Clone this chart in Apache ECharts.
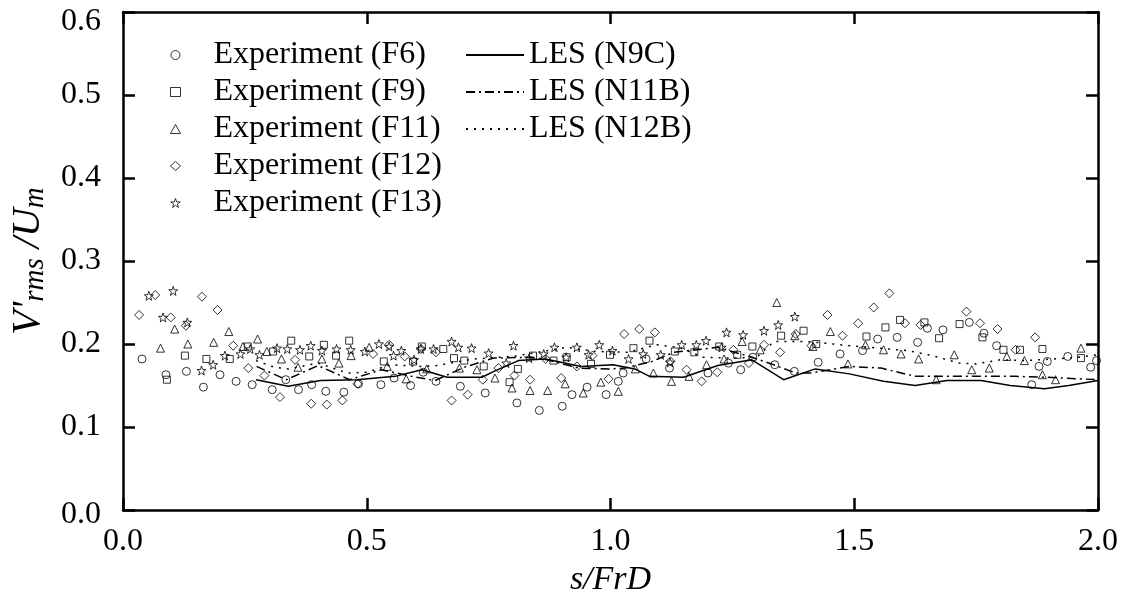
<!DOCTYPE html>
<html><head><meta charset="utf-8">
<script src="https://cdn.jsdelivr.net/npm/echarts@6/dist/echarts.min.js"></script>
<style>html,body{margin:0;padding:0;background:#fff}#c{width:1129px;height:601px}</style>
</head><body><div id="c"></div>
<script>
const FONT = 'Liberation Serif';
const seriesNames = ['Experiment (F6)','Experiment (F9)','Experiment (F11)','Experiment (F12)','Experiment (F13)','LES (N9C)','LES (N11B)','LES (N12B)'];

const expF6 = [[0.039,0.182],[0.088,0.163],[0.130,0.167],[0.165,0.148],[0.199,0.163],[0.232,0.155],[0.265,0.151],[0.306,0.145],[0.334,0.157],[0.360,0.145],[0.387,0.151],[0.416,0.143],[0.453,0.142],[0.483,0.152],[0.529,0.151],[0.556,0.159],[0.590,0.150],[0.616,0.166],[0.642,0.155],[0.692,0.149],[0.743,0.141],[0.808,0.129],[0.854,0.120],[0.901,0.125],[0.921,0.139],[0.952,0.148],[0.991,0.139],[1.016,0.155],[1.026,0.165],[1.073,0.182],[1.121,0.171],[1.200,0.165],[1.242,0.177],[1.267,0.169],[1.292,0.184],[1.337,0.175],[1.377,0.167],[1.426,0.178],[1.471,0.188],[1.517,0.192],[1.548,0.206],[1.588,0.208],[1.630,0.202],[1.650,0.219],[1.682,0.217],[1.736,0.226],[1.766,0.213],[1.792,0.198],[1.864,0.151],[1.879,0.173],[1.896,0.179],[1.938,0.185],[1.985,0.172],[1.997,0.180]];

const expF9 = [[0.090,0.157],[0.127,0.186],[0.171,0.182],[0.219,0.182],[0.256,0.197],[0.308,0.191],[0.345,0.204],[0.382,0.185],[0.412,0.199],[0.437,0.186],[0.464,0.204],[0.535,0.179],[0.595,0.179],[0.613,0.197],[0.657,0.194],[0.679,0.183],[0.700,0.180],[0.740,0.173],[0.793,0.154],[0.810,0.170],[0.841,0.186],[0.883,0.180],[0.910,0.184],[0.960,0.176],[0.999,0.187],[1.047,0.195],[1.080,0.204],[1.132,0.191],[1.172,0.190],[1.223,0.197],[1.260,0.187],[1.291,0.197],[1.350,0.210],[1.396,0.216],[1.422,0.200],[1.525,0.209],[1.564,0.220],[1.594,0.229],[1.644,0.226],[1.674,0.207],[1.716,0.224],[1.763,0.208],[1.806,0.193],[1.840,0.193],[1.886,0.194],[1.965,0.183]];

const expF11 = [[0.077,0.195],[0.106,0.218],[0.133,0.200],[0.186,0.202],[0.217,0.215],[0.246,0.197],[0.276,0.206],[0.295,0.191],[0.325,0.182],[0.359,0.172],[0.408,0.182],[0.443,0.177],[0.468,0.186],[0.505,0.196],[0.542,0.173],[0.581,0.158],[0.623,0.170],[0.690,0.171],[0.726,0.169],[0.763,0.159],[0.798,0.147],[0.835,0.144],[0.871,0.144],[0.907,0.152],[0.944,0.141],[0.980,0.154],[1.016,0.143],[1.051,0.170],[1.088,0.165],[1.125,0.155],[1.161,0.161],[1.197,0.175],[1.233,0.182],[1.270,0.203],[1.307,0.193],[1.341,0.250],[1.378,0.210],[1.415,0.197],[1.451,0.215],[1.487,0.176],[1.523,0.199],[1.560,0.193],[1.596,0.188],[1.632,0.182],[1.668,0.157],[1.705,0.187],[1.741,0.169],[1.777,0.171],[1.813,0.185],[1.849,0.180],[1.886,0.163],[1.913,0.157],[1.965,0.195]];

const expF12 = [[0.033,0.235],[0.066,0.259],[0.098,0.232],[0.129,0.222],[0.162,0.257],[0.194,0.241],[0.226,0.198],[0.257,0.171],[0.290,0.162],[0.322,0.136],[0.353,0.181],[0.386,0.128],[0.418,0.127],[0.450,0.132],[0.481,0.152],[0.513,0.188],[0.546,0.199],[0.578,0.185],[0.611,0.194],[0.642,0.190],[0.674,0.132],[0.707,0.139],[0.738,0.157],[0.770,0.171],[0.803,0.162],[0.835,0.157],[0.867,0.182],[0.899,0.159],[0.931,0.173],[0.963,0.186],[0.996,0.158],[1.028,0.212],[1.059,0.218],[1.091,0.214],[1.123,0.179],[1.156,0.169],[1.187,0.155],[1.219,0.166],[1.252,0.193],[1.284,0.177],[1.315,0.199],[1.348,0.190],[1.380,0.212],[1.412,0.198],[1.445,0.235],[1.476,0.210],[1.508,0.225],[1.540,0.244],[1.572,0.261],[1.604,0.225],[1.636,0.223],[1.730,0.239],[1.758,0.225],[1.794,0.218],[1.831,0.193],[1.871,0.208]];

const expF13 = [[0.053,0.258],[0.082,0.232],[0.103,0.264],[0.132,0.226],[0.161,0.168],[0.185,0.175],[0.209,0.186],[0.241,0.188],[0.261,0.194],[0.280,0.187],[0.316,0.195],[0.337,0.194],[0.363,0.193],[0.385,0.198],[0.408,0.192],[0.438,0.194],[0.467,0.193],[0.496,0.191],[0.525,0.200],[0.546,0.197],[0.555,0.186],[0.571,0.192],[0.597,0.181],[0.611,0.194],[0.637,0.194],[0.674,0.203],[0.688,0.196],[0.715,0.195],[0.750,0.189],[0.786,0.177],[0.801,0.198],[0.833,0.183],[0.863,0.188],[0.885,0.196],[0.909,0.184],[0.931,0.196],[0.955,0.187],[0.977,0.199],[1.004,0.192],[1.037,0.182],[1.067,0.188],[1.103,0.187],[1.122,0.178],[1.146,0.199],[1.176,0.199],[1.196,0.204],[1.228,0.196],[1.238,0.214],[1.272,0.211],[1.315,0.216],[1.344,0.223],[1.378,0.233]];

const lesN9C = [[0.273,0.157],[0.339,0.149],[0.405,0.156],[0.480,0.157],[0.558,0.161],[0.613,0.169],[0.665,0.160],[0.736,0.160],[0.761,0.167],[0.811,0.180],[0.866,0.182],[0.940,0.173],[1.005,0.175],[1.050,0.170],[1.080,0.161],[1.150,0.160],[1.220,0.174],[1.290,0.181],[1.355,0.157],[1.420,0.170],[1.490,0.164],[1.560,0.155],[1.625,0.150],[1.690,0.156],[1.760,0.156],[1.820,0.150],[1.890,0.146],[1.940,0.150],[2.000,0.156]];

const lesN11B = [[0.274,0.173],[0.335,0.157],[0.400,0.174],[0.465,0.157],[0.530,0.169],[0.600,0.160],[0.640,0.156],[0.700,0.172],[0.760,0.183],[0.835,0.184],[0.870,0.181],[0.935,0.171],[1.000,0.170],[1.030,0.171],[1.085,0.179],[1.130,0.190],[1.220,0.196],[1.290,0.184],[1.330,0.176],[1.380,0.165],[1.410,0.165],[1.490,0.173],[1.555,0.171],[1.625,0.161],[1.700,0.161],[1.760,0.161],[1.830,0.161],[1.890,0.160],[2.000,0.157]];

const lesN12B = [[0.273,0.180],[0.310,0.172],[0.340,0.170],[0.400,0.177],[0.460,0.165],[0.500,0.166],[0.550,0.175],[0.610,0.173],[0.645,0.174],[0.680,0.178],[0.720,0.182],[0.800,0.185],[0.870,0.192],[0.910,0.196],[0.970,0.191],[1.035,0.190],[1.095,0.199],[1.140,0.196],[1.190,0.184],[1.250,0.183],[1.300,0.184],[1.335,0.203],[1.400,0.203],[1.440,0.201],[1.490,0.198],[1.550,0.195],[1.610,0.192],[1.660,0.186],[1.715,0.177],[1.750,0.176],[1.800,0.181],[1.850,0.180],[1.910,0.182],[1.960,0.184],[2.000,0.187]];

const starPath = 'path://M0,-10L2.35,-3.24L9.51,-3.09L3.8,1.24L5.88,8.09L0,4L-5.88,8.09L-3.8,1.24L-9.51,-3.09L-2.35,-3.24Z';

function scatter(name, data, symbol, size) {
  return {
    name, type: 'scatter', data, symbol, symbolSize: size,
    itemStyle: { color: 'rgba(0,0,0,0)', borderColor: '#000', borderWidth: 1 },
    emphasis: { disabled: true }, silent: true, z: 3
  };
}
function line(name, data, dash) {
  return {
    name, type: 'line', data, symbol: 'none', showSymbol: false,
    lineStyle: { color: '#000', width: 1.5, type: dash },
    itemStyle: { color: '#000' },
    emphasis: { disabled: true }, silent: true, z: 2
  };
}

const labelStyle = { fontFamily: FONT, fontSize: 32, color: '#000' };
const axisCommon = {
  type: 'value',
  axisLine: { show: true, onZero: false, lineStyle: { color: '#000', width: 2.5 } },
  axisTick: { show: true, inside: true, length: 12, lineStyle: { color: '#000', width: 2.5 } },
  splitLine: { show: false },
  axisLabel: Object.assign({}, labelStyle, { formatter: v => v.toFixed(1) })
};

const legendText = { fontFamily: FONT, fontSize: 32, lineHeight: 30, color: '#000' };

const chart = echarts.init(document.getElementById('c'), null, { renderer: 'canvas' });
chart.setOption({
  animation: false,
  backgroundColor: '#fff',
  grid: { left: 123, right: 31, top: 12, bottom: 91, outerBoundsMode: 'none' },
  xAxis: [
    Object.assign({}, axisCommon, {
      min: 0, max: 2, interval: 0.5, position: 'bottom',
      axisLabel: Object.assign({}, axisCommon.axisLabel, { margin: 16 }),
      name: 's/FrD', nameLocation: 'middle', nameGap: 52,
      nameTextStyle: { fontFamily: FONT, fontSize: 34, fontStyle: 'italic', color: '#000' }
    }),
    Object.assign({}, axisCommon, {
      min: 0, max: 2, interval: 0.5, position: 'top',
      axisLabel: { show: false }
    })
  ],
  yAxis: [
    Object.assign({}, axisCommon, {
      min: 0, max: 0.6, interval: 0.1, position: 'left',
      axisLabel: Object.assign({}, axisCommon.axisLabel, {
        margin: 22,
        formatter: v => {
          const s = v.toFixed(1);
          if (v >= 0.59) return '{top|' + s + '}';
          if (v <= 0.01) return '{bot|' + s + '}';
          return s;
        },
        rich: {
          top: Object.assign({}, labelStyle, { padding: [20, 0, 0, 0] }),
          bot: Object.assign({}, labelStyle, { padding: [10, 0, 0, 0] })
        }
      }),
      name: "{a|V'}{b|rms}{a| /U}{b|m}", nameLocation: 'middle', nameGap: 68, nameRotate: 90,
      nameTextStyle: {
        fontFamily: FONT, fontStyle: 'italic', color: '#000',
        rich: {
          a: { fontFamily: FONT, fontStyle: 'italic', fontSize: 40, lineHeight: 44, color: '#000' },
          b: { fontFamily: FONT, fontStyle: 'italic', fontSize: 29, lineHeight: 24, verticalAlign: 'bottom', color: '#000' }
        }
      }
    }),
    Object.assign({}, axisCommon, {
      min: 0, max: 0.6, interval: 0.1, position: 'right',
      axisLabel: { show: false }
    })
  ],
  legend: [
    {
      data: seriesNames.slice(0, 5), orient: 'vertical', left: 165, top: 34,
      itemWidth: 10, itemHeight: 9, itemGap: 5,
      textStyle: Object.assign({}, legendText, { padding: [0, 0, 0, 28] }),
      itemStyle: { borderWidth: 1, borderColor: '#000', color: 'rgba(0,0,0,0)' },
      selectedMode: false
    },
    {
      data: seriesNames.slice(5), orient: 'vertical', left: 460, top: 34,
      itemWidth: 58, itemHeight: 9, itemGap: 5,
      textStyle: legendText,
      itemStyle: { opacity: 0, borderWidth: 0 },
      selectedMode: false
    }
  ],
  series: [
    scatter(seriesNames[0], expF6, 'circle', 8),
    scatter(seriesNames[1], expF9, 'rect', 7),
    scatter(seriesNames[2], expF11, 'triangle', 8),
    scatter(seriesNames[3], expF12, 'diamond', 9),
    scatter(seriesNames[4], expF13, starPath, 9),
    line(seriesNames[5], lesN9C, 'solid'),
    line(seriesNames[6], lesN11B, [9, 4, 2, 4]),
    line(seriesNames[7], lesN12B, [2, 6])
  ]
});
</script></body></html>
